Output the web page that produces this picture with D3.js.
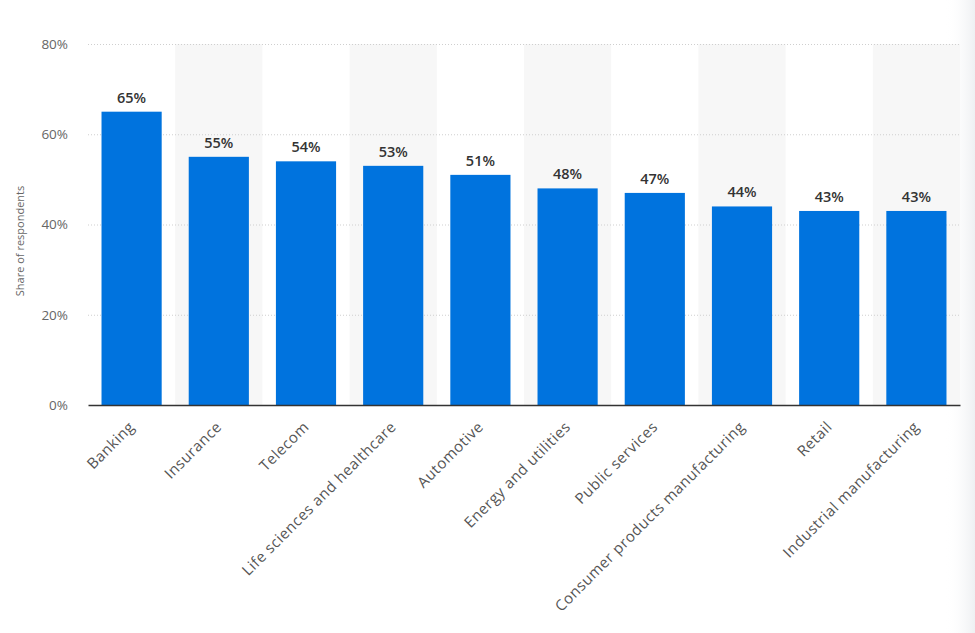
<!DOCTYPE html>
<html>
<head>
<meta charset="utf-8">
<script src="https://cdn.jsdelivr.net/npm/d3@7"></script>
<style>
  body { margin: 0; background: #fff; }
  svg { display: block; }
  svg text { font-family: "Open Sans", "DejaVu Sans", sans-serif; }
</style>
</head>
<body>
<svg id="chart" width="975" height="633"></svg>
<script>
const industries = ["Banking", "Insurance", "Telecom", "Life sciences and healthcare", "Automotive",
    "Energy and utilities", "Public services", "Consumer products manufacturing", "Retail", "Industrial manufacturing"];
const shares = [65, 55, 54, 53, 51, 48, 47, 44, 43, 43];
const yTicks = [0, 20, 40, 60, 80];

const data = industries.map((d, i) => ({ name: d, value: shares[i] }));

const width = 975, height = 633;
const margin = { top: 44, right: 15, bottom: 228, left: 88 };
const innerW = width - margin.left - margin.right;
const innerH = height - margin.top - margin.bottom;

const svg = d3.select("#chart");

// faint shadow on the right edge
const defs = svg.append("defs");
const grad = defs.append("linearGradient").attr("id", "edge").attr("x1", 0).attr("x2", 1);
grad.append("stop").attr("offset", 0).attr("stop-color", "#fff").attr("stop-opacity", 0);
grad.append("stop").attr("offset", 1).attr("stop-color", "#eef0f2").attr("stop-opacity", 1);
svg.append("rect").attr("x", 945).attr("y", 0).attr("width", 30).attr("height", height).attr("fill", "url(#edge)");

const g = svg.append("g").attr("transform", `translate(${margin.left},${margin.top})`);

const x = d3.scaleBand()
    .domain(industries)
    .range([0, innerW])
    .paddingInner(0.31)
    .paddingOuter(0.155);

const y = d3.scaleLinear()
    .domain([0, 80])
    .range([innerH, 0]);

const step = x.step();

// alternating band shading
g.append("g")
    .selectAll("rect")
    .data(industries.filter((d, i) => i % 2 === 1))
    .enter()
    .append("rect")
    .attr("x", d => x(d) - x.paddingInner() * step / 2)
    .attr("y", y(80))
    .attr("width", step)
    .attr("height", y(0) - y(80))
    .attr("fill", "#f7f7f7");

// grid lines
g.append("g")
    .selectAll("line")
    .data(yTicks.filter(d => d > 0))
    .enter()
    .append("line")
    .attr("x1", 0)
    .attr("x2", innerW)
    .attr("y1", d => y(d) + 0.5)
    .attr("y2", d => y(d) + 0.5)
    .attr("stroke", "#cfcfcf")
    .attr("stroke-width", 1)
    .attr("stroke-dasharray", "1,2");

// y axis
const yAxis = g.append("g")
    .call(d3.axisLeft(y).tickValues(yTicks).tickFormat(d => d + "%").tickSize(0).tickPadding(20));
yAxis.attr("font-family", null);
yAxis.select(".domain").remove();
yAxis.selectAll("text")
    .style("font-size", "13.5px")
    .style("fill", "#666");

svg.append("text")
    .attr("transform", `translate(24, 241) rotate(-90)`)
    .attr("text-anchor", "middle")
    .style("font-size", "11px")
    .style("fill", "#666")
    .text("Share of respondents");

// bars
g.append("g")
    .selectAll("rect")
    .data(data)
    .enter()
    .append("rect")
    .attr("x", d => x(d.name))
    .attr("y", d => y(d.value))
    .attr("width", x.bandwidth())
    .attr("height", d => y(0) - y(d.value))
    .attr("fill", "#0073de");

// value labels
g.append("g")
    .selectAll("text")
    .data(data)
    .enter()
    .append("text")
    .attr("x", d => x(d.name) + x.bandwidth() / 2)
    .attr("y", d => y(d.value) - 9)
    .attr("text-anchor", "middle")
    .style("font-size", "14.5px")
    .style("font-weight", "600")
    .style("fill", "#333")
    .text(d => d.value + "%");

// x axis
const xAxis = g.append("g")
    .attr("transform", `translate(0,${innerH})`)
    .call(d3.axisBottom(x).tickSize(0).tickSizeOuter(0));
xAxis.attr("font-family", null);
xAxis.select(".domain")
    .attr("stroke", "#333")
    .attr("stroke-width", 1.5);
xAxis.selectAll("text")
    .attr("text-anchor", "end")
    .attr("transform", "translate(-2,17) rotate(-45)")
    .attr("dy", "0.35em")
    .style("font-size", "15px")
    .style("letter-spacing", "0.5px")
    .style("fill", "#555");
</script>
</body>
</html>
